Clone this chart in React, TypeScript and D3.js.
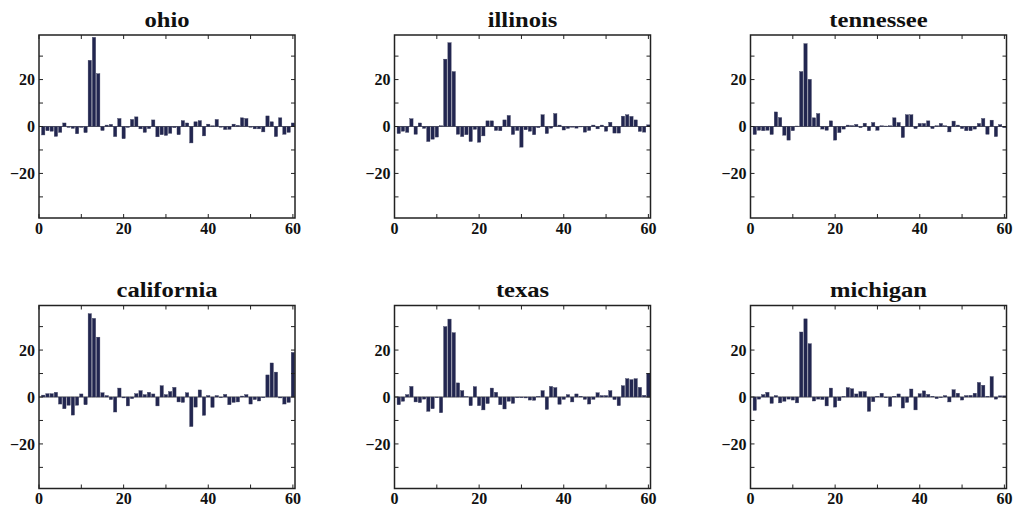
import React from "react";
import * as d3 from "d3";

const states = ["ohio", "illinois", "tennessee", "california", "texas", "michigan"];

const ohio = [-3.6, -1.8, -2, -4.2, -2.5, 1.5, -0.4, -0.8, -3.1, -0.4, -2.6, 28.2, 38, 22.5, -1.7, 0.6, 0.9, -4.3, 3.4, -5.2,
  -0.4, 3, 4.1, -1, -2.5, -0.9, 2.8, -4.4, -3.5, -3.8, -2.9, -0.5, -3.5, 2.5, 1.5, -7, 2, 2.5, -4, 1,
  0.3, 3, -0.3, -1.3, -1.2, 1, 0.5, 3.7, 3.4, -0.3, -1, -1, -2.3, 4.5, 2, -4.3, 3.7, -3.3, -2.5, 1.5];

const illinois = [-3, -2, -2.5, 3.3, -3.3, 1.5, -0.8, -6.4, -5.4, -4.5, 0.3, 28.7, 35.7, 23.4, -3.3, -4.3, -3.5, -6.4, -1.2, -6.7,
  -4, 2.4, 2.4, -1.7, -1.8, 2.8, 4.7, -3.4, -1.7, -8.8, -1.4, -2, -3.5, -0.5, 5, -3, -0.7, 5.5, 0.6, -1.5,
  -0.8, -0.3, -0.7, -0.2, -2.4, -1.7, 0.6, -1, 0.6, -2, 1.8, -2.8, -2.8, 4.4, 5, 4.3, 2.8, -2.1, -2.4, 0.7];

const tennessee = [-3.4, -1.6, -1.8, -1.6, -3.4, 6.2, 3.8, -3.7, -5.8, -1.8, 0.2, 23.4, 35.3, 20.1, 3.7, 5.5, -1.1, -1.6, 2.4, -5.8,
  -2.6, -1.1, 0.6, 0.4, 0.9, -0.5, 1.4, -1.8, 1.7, -1.6, 0.3, 0.2, 0.3, 3.7, 1.7, -4.7, 5, 5, -0.9, 1.3,
  1.3, 2.4, -0.9, 0.3, 1.3, 0.3, -2.3, 2.3, 0.6, -0.9, -1.8, -1.8, -1.1, 1.3, 3.4, -3.3, 2.7, -4.3, 0.8, -0.5];

const california = [0.8, 1.4, 1.4, 2, -3, -5, -3.5, -7.7, -3.5, 1.3, -3.3, 35.5, 33.5, 25.5, 1.8, 0.6, -1.1, -6.4, 3.8, -0.4,
  -3.8, -0.7, 1.4, 2.7, 1, 2, 1.3, -3.8, 4.8, 1, 2.3, 4.1, -2.1, -2.3, 1.8, -12.6, -4.3, 3, -7.8, 0.6,
  -4.4, 0.6, -0.3, 1.1, -3.3, -2.3, -2.1, 0.4, 1, -3, -1.1, -1.7, -0.3, 9.4, 14.5, 10.6, -0.4, -3, -2.3, 19];

const texas = [-3.3, -1.8, 1, 4.5, -2.1, -2.4, -0.9, -6.1, -5, -0.3, -6.7, 30, 33.2, 27.4, 6, 2.7, 0.1, -3.7, 4.4, -3.7,
  -5.5, -2.8, 3.8, 2, -3.3, -5.1, -1.8, -2.7, -0.3, -0.3, -0.4, -1.3, -1.4, 0.2, 2.7, -5.3, 4.5, 4, -3.1, -1,
  1, -2.1, 1.3, 0.3, -1, -3, -1, 1.8, 0.6, 0.6, 2.7, -1.1, -3.7, 4.8, 7.8, 7.4, 7.8, 4.1, 0.7, 10];

const michigan = [-5.7, -0.9, 1, 2, -2.7, 0.6, -2.5, -1.8, -0.9, -1.3, -2.5, 27.7, 33.3, 22.7, -1.7, -0.9, -1.1, -3.8, 3.8, -4.3,
  -1.6, 0.2, 4, 3.5, 1.3, 2.3, 2.3, -6.1, -2, 0.3, 1.6, -0.3, -4, 0.3, 1.3, -4.7, -2.3, 3.4, -5.5, 1.4,
  2.6, 1.1, 0.3, -0.7, -0.3, 0.6, -2.1, 3.1, 1.6, -1.3, 0.6, 0.7, 1.6, 6.2, 5, 0.3, 8.7, -0.9, 0.5, 0.5];

const seriesList = [ohio, illinois, tennessee, california, texas, michigan];

const xTicks = [0, 10, 20, 30, 40, 50, 60];
const xLabels = [0, 20, 40, 60];
const yTicks = [-30, -20, -10, 0, 10, 20, 30];
const yLabels = [-20, 0, 20];

const W = 256;
const H = 183;
const colLeft = [39, 394.5, 750.5];
const rowTop = [35, 305.5];

const fmt = d3.format("d");
const FONT = "'Liberation Serif', 'Times New Roman', serif";

function Panel({ name, values, left, top }: { name: string; values: number[]; left: number; top: number }) {
  const x = d3.scaleLinear().domain([0, 60.5]).range([0, W]);
  const y = d3.scaleLinear().domain([-39, 39]).range([H, 0]);
  const bw = x(0.78) - x(0);
  const tl = 4;
  return (
    <g transform={`translate(${left},${top})`}>
      <g transform={`translate(${W / 2},-8.5) scale(1.2,1)`}>
        <text x={0} y={0} textAnchor="middle" fontFamily={FONT} fontWeight="bold" fontSize={20.5} fill="#111">
          {name}
        </text>
      </g>
      <line x1={0} x2={W} y1={y(0)} y2={y(0)} stroke="#666" strokeWidth={1} />
      {values.map((v, i) => (
        <rect
          key={i}
          x={x(i + 1) - bw / 2}
          width={bw}
          y={y(Math.max(v, 0))}
          height={Math.abs(y(v) - y(0))}
          fill="#222650"
          stroke="#3c3f5e"
          strokeWidth={0.4}
        />
      ))}
      {xTicks.map((t) => (
        <g key={"xt" + t}>
          <line x1={x(t)} x2={x(t)} y1={H} y2={H - tl} stroke="#222" strokeWidth={1} />
          <line x1={x(t)} x2={x(t)} y1={0} y2={tl} stroke="#222" strokeWidth={1} />
        </g>
      ))}
      {yTicks.map((t) => (
        <g key={"yt" + t}>
          <line x1={0} x2={tl} y1={y(t)} y2={y(t)} stroke="#222" strokeWidth={1} />
          <line x1={W} x2={W - tl} y1={y(t)} y2={y(t)} stroke="#222" strokeWidth={1} />
        </g>
      ))}
      <rect x={0} y={0} width={W} height={H} fill="none" stroke="#222" strokeWidth={1.5} />
      {xLabels.map((t) => (
        <text key={"xl" + t} x={x(t)} y={H + 15.5} textAnchor="middle" fontFamily={FONT} fontWeight="bold" fontSize={16} fill="#111">
          {fmt(t)}
        </text>
      ))}
      {yLabels.map((t) => (
        <text key={"yl" + t} x={-4} y={y(t)} dy="0.35em" textAnchor="end" fontFamily={FONT} fontWeight="bold" fontSize={16} fill="#111">
          {fmt(t)}
        </text>
      ))}
    </g>
  );
}

export default function App() {
  return (
    <svg width={1013} height={506} style={{ position: "absolute", left: 0, top: 0, background: "#fff" }}>
      <rect width={1013} height={506} fill="#fff" />
      {states.map((s, k) => (
        <Panel key={s} name={s} values={seriesList[k]} left={colLeft[k % 3]} top={rowTop[Math.floor(k / 3)]} />
      ))}
    </svg>
  );
}
